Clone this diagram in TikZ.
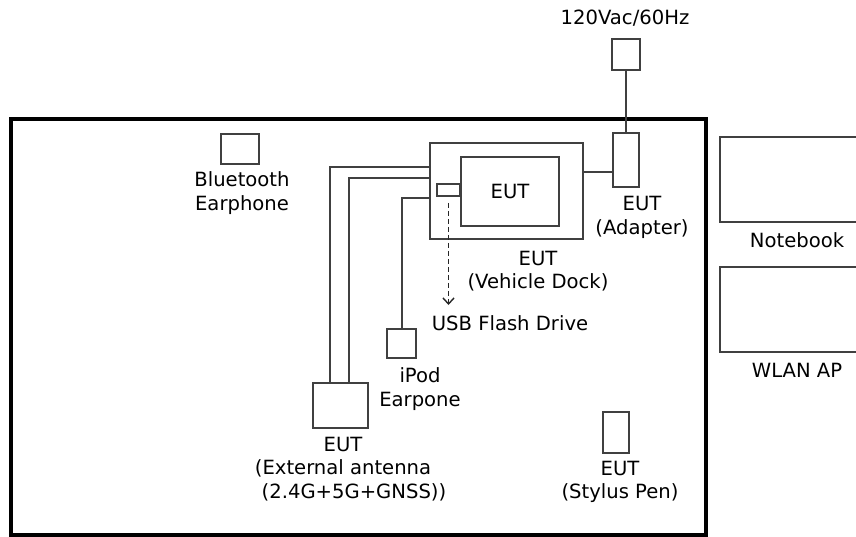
\documentclass[tikz,border=0pt]{standalone}
\usepackage{fontspec}
\setmainfont{DejaVu Sans}
\usetikzlibrary{arrows.meta}
\begin{document}
\begin{tikzpicture}[x=1pt,y=-1pt,
  box/.style={draw=black!75,line width=1.8pt,inner sep=0pt},
  wire/.style={draw=black!75,line width=2pt},
  lbl/.style={font=\fontsize{19.6}{23.5}\selectfont,align=center,inner sep=0pt,text=black},
  frame/.style={draw=black,line width=4pt}]
\clip (0,0) rectangle (856,537);
\fill[white] (0,0) rectangle (856,537);
% test-room frame
\draw[frame] (10.5,119) rectangle (705.5,535);
% boxes
\node[box,minimum width=28pt,minimum height=31pt] (pwr) at (626,54.5) {};
\node[box,minimum width=26pt,minimum height=54pt] (adp) at (626,160) {};
\node[box,minimum width=153pt,minimum height=96pt] (dock) at (506.5,191) {};
\node[box,minimum width=98pt,minimum height=69pt,lbl] (eut) at (510,191.5) {EUT};
\node[box,minimum width=23pt,minimum height=12pt] (usb) at (448.5,190) {};
\node[box,minimum width=38pt,minimum height=30pt] (bt) at (240,149) {};
\node[box,minimum width=29pt,minimum height=29pt] (ipod) at (401.5,343.5) {};
\node[box,minimum width=55pt,minimum height=45pt] (ant) at (340.5,405.5) {};
\node[box,minimum width=26pt,minimum height=41pt] (pen) at (616,432.5) {};
\node[box,minimum width=160pt,minimum height=85pt] (nb) at (800,179.5) {};
\node[box,minimum width=160pt,minimum height=85pt] (wlan) at (800,309.5) {};
% labels
\node[lbl] (tpwr) at (625,18) {120Vac/60Hz};
\node[lbl] (tadp) at (642,217.5) {EUT\\(Adapter)};
\node[lbl] (tnb) at (797,240) {Notebook};
\node[lbl] (twlan) at (797,370) {WLAN AP};
\node[lbl] (tdock) at (538,271) {EUT\\(Vehicle Dock)};
\node[lbl] (tusb) at (510,323) {USB Flash Drive};
\node[lbl] (tbt) at (242,193) {Bluetooth\\Earphone};
\node[lbl] (tipod) at (420,389) {iPod\\Earpone};
\node[lbl] (tant) at (343,469) {EUT\\(External antenna\\\hspace*{22pt}(2.4G+5G+GNSS))};
\node[lbl] (tpen) at (620,482) {EUT\\(Stylus Pen)};
% connectors
\draw[wire] (pwr.south) -- (adp.north);
\draw[wire] ([yshift=-30pt]dock.north east) -- ([yshift=-30pt]dock.north east -| adp.west);
\draw[wire] ([yshift=-25pt]dock.north west) -| ([xshift=18pt]ant.north west);
\draw[wire] ([yshift=-36pt]dock.north west) -| ([xshift=37pt]ant.north west);
\draw[wire] ([yshift=-56pt]dock.north west) -| (ipod.north);
\coordinate (usbend) at (448.5,305);
\draw[black!85,line width=1.4pt,dash pattern=on 5pt off 3pt,-{Straight Barb[length=6pt,width=11pt]}] ([yshift=-6pt]usb.south) -- (usbend);
\end{tikzpicture}
\end{document}
